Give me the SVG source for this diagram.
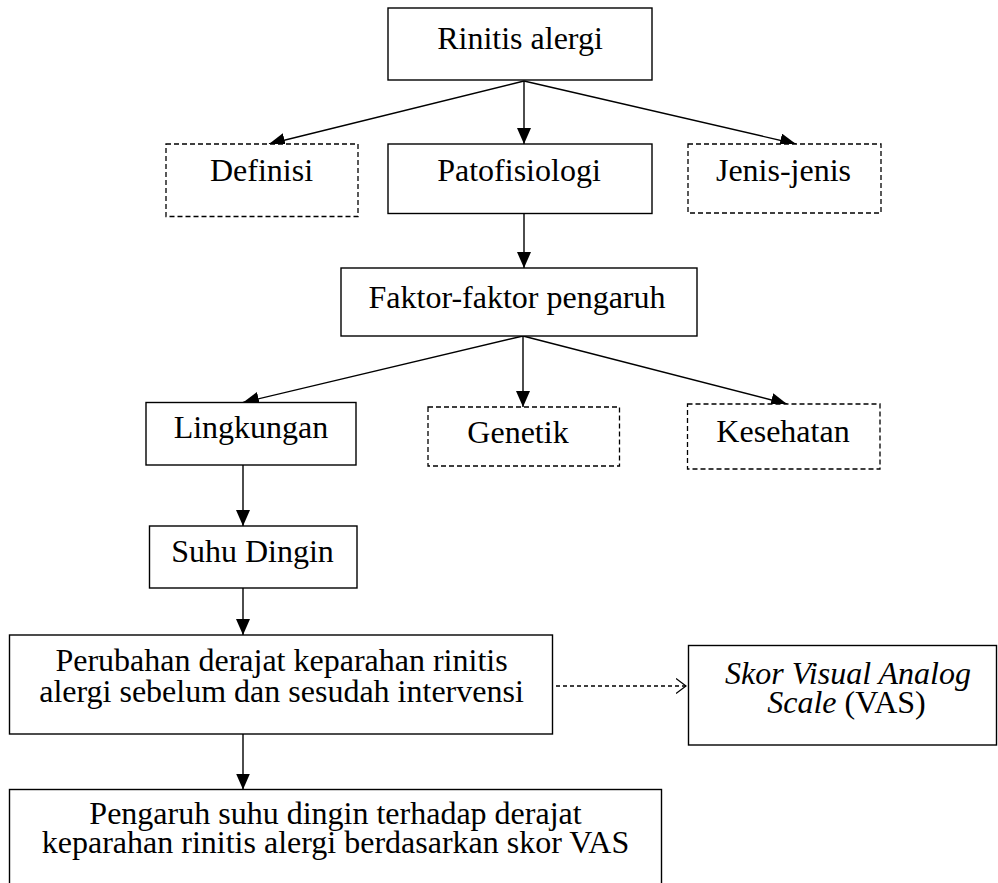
<svg xmlns="http://www.w3.org/2000/svg" width="998" height="883" viewBox="0 0 998 883">
  <defs>
    <style>
      .box { fill: #ffffff; stroke: #000000; stroke-width: 1.4; }
      .opt { fill: #ffffff; stroke: #000000; stroke-width: 1.3; stroke-dasharray: 5 3; }
      .lbl { font-size: 32px; fill: #000000; text-anchor: middle; }
      .it { font-style: italic; }
      .link { fill: none; stroke: #000000; stroke-width: 1.4; }
      .link-dash { fill: none; stroke: #000000; stroke-width: 1.3; stroke-dasharray: 4 3; }
    </style>
    <marker id="head" markerUnits="userSpaceOnUse" markerWidth="17" markerHeight="15" refX="16" refY="7" orient="auto">
      <path d="M0,0 L16,7 L0,14 z" fill="#000000"/>
    </marker>
    <marker id="open" markerUnits="userSpaceOnUse" markerWidth="12" markerHeight="16" refX="10.5" refY="8" orient="auto">
      <path d="M0.5,0.5 L10.5,8 L0.5,15.5" fill="none" stroke="#000000" stroke-width="1.2"/>
    </marker>
  </defs>

  <!-- connectors -->
  <g id="connectors">
    <line class="link" x1="524" y1="81" x2="269" y2="144" marker-end="url(#head)"/>
    <line class="link" x1="524" y1="81" x2="524" y2="144" marker-end="url(#head)"/>
    <line class="link" x1="524" y1="81" x2="796" y2="144" marker-end="url(#head)"/>
    <line class="link" x1="524" y1="213" x2="524" y2="268" marker-end="url(#head)"/>
    <line class="link" x1="523" y1="336" x2="243" y2="402.5" marker-end="url(#head)"/>
    <line class="link" x1="523" y1="336" x2="523" y2="407" marker-end="url(#head)"/>
    <line class="link" x1="523" y1="336" x2="787" y2="404" marker-end="url(#head)"/>
    <line class="link" x1="243" y1="465" x2="243" y2="526" marker-end="url(#head)"/>
    <line class="link" x1="243" y1="588" x2="243" y2="635" marker-end="url(#head)"/>
    <line class="link" x1="243" y1="734" x2="243" y2="789.5" marker-end="url(#head)"/>
    <line class="link-dash" x1="556" y1="686" x2="686" y2="686" marker-end="url(#open)"/>
  </g>

  <g font-family="'Liberation Serif', 'Times New Roman', Times, serif">
    <!-- top node -->
    <g id="rinitis">
      <rect class="box" x="388" y="8" width="264" height="72"/>
      <text class="lbl" x="520" y="49">Rinitis alergi</text>
    </g>

    <g id="definisi">
      <rect class="opt" x="166" y="144" width="192" height="72.5"/>
      <text class="lbl" x="261.5" y="181">Definisi</text>
    </g>

    <g id="patofisiologi">
      <rect class="box" x="388" y="144" width="264" height="69.5"/>
      <text class="lbl" x="519" y="181">Patofisiologi</text>
    </g>

    <g id="jenis">
      <rect class="opt" x="688" y="144" width="193" height="69"/>
      <text class="lbl" x="783.5" y="181">Jenis-jenis</text>
    </g>

    <g id="faktor">
      <rect class="box" x="341" y="268" width="356" height="68"/>
      <text class="lbl" x="517" y="308">Faktor-faktor pengaruh</text>
    </g>

    <g id="lingkungan">
      <rect class="box" x="146" y="402.5" width="210" height="62.5"/>
      <text class="lbl" x="251" y="438">Lingkungan</text>
    </g>

    <g id="genetik">
      <rect class="opt" x="428" y="407" width="191.5" height="59"/>
      <text class="lbl" x="518" y="443">Genetik</text>
    </g>

    <g id="kesehatan">
      <rect class="opt" x="687.5" y="404" width="192.5" height="65"/>
      <text class="lbl" x="783" y="441.5">Kesehatan</text>
    </g>

    <g id="suhu-dingin">
      <rect class="box" x="149.5" y="526" width="207.5" height="62"/>
      <text class="lbl" x="252.5" y="561.5">Suhu Dingin</text>
    </g>

    <g id="perubahan">
      <rect class="box" x="9.5" y="635" width="543" height="99"/>
      <text class="lbl" x="281.5" y="671">Perubahan derajat keparahan rinitis</text>
      <text class="lbl" x="281.5" y="701.5">alergi sebelum dan sesudah intervensi</text>
    </g>

    <g id="skor-vas">
      <rect class="box" x="688.5" y="645.5" width="308" height="99.5"/>
      <text class="lbl it" x="848" y="684">Skor Visual Analog</text>
      <text class="lbl" x="846.5" y="713"><tspan class="it">Scale</tspan> (VAS)</text>
    </g>

    <g id="pengaruh">
      <rect class="box" x="9.5" y="789.5" width="652" height="120"/>
      <text class="lbl" x="335.5" y="824">Pengaruh suhu dingin terhadap derajat</text>
      <text class="lbl" x="335.5" y="853">keparahan rinitis alergi berdasarkan skor VAS</text>
    </g>
  </g>
</svg>
